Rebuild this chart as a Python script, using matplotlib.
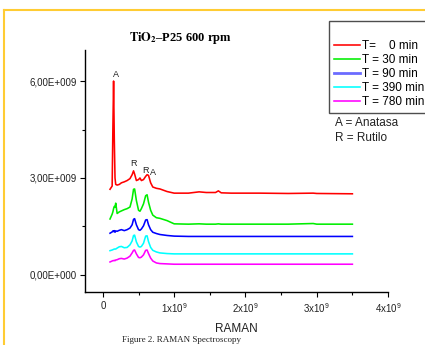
import matplotlib
matplotlib.use("Agg")
import matplotlib.pyplot as plt
from matplotlib.lines import Line2D
from matplotlib.ticker import FixedLocator, MultipleLocator

plt.rcParams['font.family'] = ['Liberation Sans', 'DejaVu Sans']
plt.rcParams['mathtext.fontset'] = 'custom'
plt.rcParams['mathtext.rm'] = 'Liberation Sans'

# Raman shift axis (in units of 1e9, as printed on the chart)
x = [0.10, 0.13, 0.14, 0.15, 0.16, 0.17, 0.18, 0.20, 0.23, 0.26, 0.30, 0.34,
     0.38, 0.41, 0.43, 0.445, 0.47, 0.50, 0.52, 0.54, 0.57, 0.60, 0.62, 0.64,
     0.67, 0.70, 0.75, 0.80, 0.90, 1.00, 1.20, 1.35, 1.45, 1.58, 1.62, 1.66,
     1.80, 2.20, 2.60, 2.95, 3.00, 3.50]

# intensities (units of 1e9)
t0 = [2.65, 2.75, 4.50, 6.00, 4.20, 3.00, 2.80, 2.78, 2.80, 2.85, 2.88, 2.92,
      2.98, 3.10, 3.22, 3.12, 2.92, 2.95, 3.00, 2.92, 2.95, 3.05, 3.10, 3.08,
      2.85, 2.72, 2.68, 2.66, 2.58, 2.53, 2.53, 2.57, 2.55, 2.55, 2.60, 2.54,
      2.53, 2.53, 2.52, 2.53, 2.52, 2.51]
t30 = [1.73, 1.88, 1.95, 2.05, 2.12, 2.10, 2.22, 1.90, 1.95, 1.98, 2.02, 2.05,
       2.10, 2.35, 2.65, 2.66, 2.30, 2.00, 1.97, 2.05, 2.20, 2.45, 2.48, 2.25,
       2.00, 1.85, 1.77, 1.75, 1.68, 1.58, 1.57, 1.58, 1.57, 1.57, 1.58, 1.57,
       1.57, 1.57, 1.57, 1.59, 1.57, 1.57]
t90 = [1.29, 1.33, 1.36, 1.34, 1.37, 1.32, 1.36, 1.35, 1.38, 1.40, 1.37, 1.40,
       1.45, 1.55, 1.72, 1.74, 1.55, 1.40, 1.38, 1.42, 1.52, 1.70, 1.71, 1.55,
       1.40, 1.32, 1.28, 1.25, 1.22, 1.20, 1.19, 1.19, 1.19, 1.19, 1.19, 1.19,
       1.19, 1.19, 1.19, 1.19, 1.19, 1.19]
t390 = [0.75, 0.77, 0.78, 0.79, 0.80, 0.80, 0.80, 0.83, 0.87, 0.88, 0.84, 0.85,
        0.93, 1.05, 1.22, 1.23, 1.02, 0.88, 0.86, 0.88, 0.98, 1.20, 1.21, 1.03,
        0.85, 0.76, 0.71, 0.68, 0.66, 0.65, 0.65, 0.65, 0.65, 0.65, 0.65, 0.65,
        0.65, 0.65, 0.65, 0.65, 0.65, 0.65]
t780 = [0.40, 0.43, 0.44, 0.44, 0.45, 0.44, 0.46, 0.47, 0.50, 0.51, 0.49, 0.52,
        0.58, 0.68, 0.76, 0.77, 0.65, 0.54, 0.53, 0.55, 0.62, 0.76, 0.77, 0.66,
        0.52, 0.43, 0.37, 0.35, 0.34, 0.33, 0.33, 0.33, 0.33, 0.33, 0.33, 0.33,
        0.33, 0.33, 0.33, 0.33, 0.33, 0.33]

series = [t0, t30, t90, t390, t780]
labels = ['T=    0 min', 'T = 30 min', 'T = 90 min', 'T = 390 min', 'T = 780 min']
colors = ['#ff0000', '#00ee00', '#0000ff', '#00ffff', '#ff00ff']

xticks = [0, 1, 2, 3, 4]
xticklabels = ['0', '1x10$^{9}$', '2x10$^{9}$', '3x10$^{9}$', '4x10$^{9}$']
yticks = [0, 3, 6]
yticklabels = ['0,00E+000', '3,00E+009', '6,00E+009']

peak_labels = ['A', 'R', 'R', 'A']
peak_x = [0.19, 0.425, 0.60, 0.70]
peak_y = [6.19, 3.44, 3.24, 3.18]

fig = plt.figure(figsize=(4.25, 3.45), dpi=100)
ax = fig.add_axes([0.201, 0.1536, 0.712, 0.7014])

for s, lab, c in zip(series, labels, colors):
    ax.plot(x, s, color=c, lw=1.15, label=lab)

for t, px, py in zip(peak_labels, peak_x, peak_y):
    ax.text(px, py, t, fontsize=6.5, ha='center', va='center', color='#222222')

ax.set_xlim(-0.245, 4.0)
ax.set_ylim(-0.53, 6.96)
ax.xaxis.set_major_locator(FixedLocator(xticks))
ax.set_xticklabels(xticklabels)
ax.xaxis.set_minor_locator(MultipleLocator(0.5))
ax.yaxis.set_major_locator(FixedLocator(yticks))
ax.set_yticklabels(yticklabels)
ax.yaxis.set_minor_locator(MultipleLocator(1.5))
ax.tick_params(axis='both', which='major', labelsize=7, length=3.5, width=0.8,
               direction='out', colors='black', labelcolor='#222222')
ax.tick_params(axis='both', which='minor', length=2.5, width=0.8, direction='out')
ax.tick_params(axis='x', pad=3)
ax.tick_params(axis='y', pad=2.5)
for sp in ['top', 'right']:
    ax.spines[sp].set_visible(False)
for sp in ['left', 'bottom']:
    ax.spines[sp].set_linewidth(1.0)

ax.set_xlabel('RAMAN', fontsize=8.5, labelpad=6, color='#222222')

fig.text(0.424, 0.891, r'$\mathbf{TiO_2}$' + '\u2012P25 600 rpm', fontsize=9,
         fontweight='bold', family='Liberation Serif', ha='center', va='center',
         math_fontfamily='stix')

leg = fig.legend(loc='upper left', bbox_to_anchor=(329 / 425, 1 - 21 / 345),
                 fontsize=8.5, title=' ', title_fontsize=9.5, frameon=True,
                 fancybox=False, edgecolor='#222222', handlelength=2.2,
                 handletextpad=0.17, labelspacing=0.18, borderpad=0.4,
                 borderaxespad=0)
leg.get_frame().set_linewidth(1.0)
leg_lines = leg.get_lines()
leg_lines[2].set_linewidth(2.0)
leg_lines[2].set_color('#6b6bff')

fig.text(335 / 425, 1 - 123 / 345, 'A = Anatasa', fontsize=8.5, va='center',
         color='#222222')
fig.text(335 / 425, 1 - 138 / 345, 'R = Rutilo', fontsize=8.5, va='center',
         color='#222222')

fig.text(181 / 425, 1 - 340 / 345, 'Figure 2. RAMAN Spectroscopy', fontsize=6.5,
         family='Liberation Serif', ha='center', va='center', color='#222222')

# yellow page border
fig.add_artist(Line2D([4 / 425, 4 / 425], [0, 1 - 10 / 345], transform=fig.transFigure,
                      color='#ffcc33', lw=1.5))
fig.add_artist(Line2D([4 / 425, 1], [1 - 10 / 345, 1 - 10 / 345], transform=fig.transFigure,
                      color='#ffcc33', lw=1.5))

fig.savefig('out.png', dpi=100)
